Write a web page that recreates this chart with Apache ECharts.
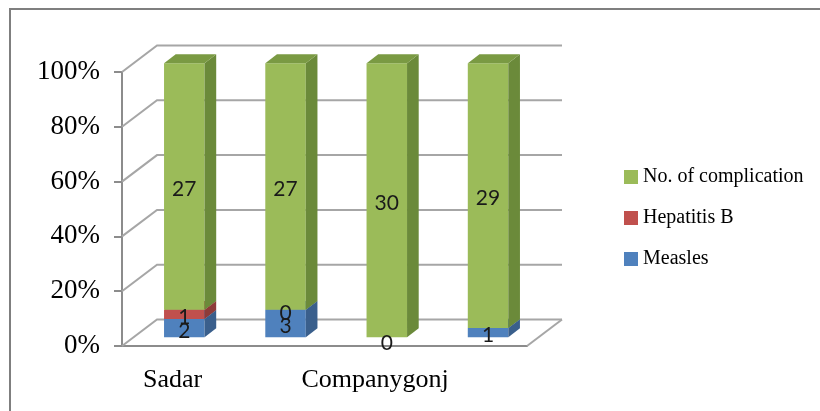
<!DOCTYPE html>
<html><head><meta charset="utf-8">
<script src="https://cdn.jsdelivr.net/npm/echarts@6/dist/echarts.min.js"></script>
<style>html,body{margin:0;padding:0;background:#fff}#c{width:820px;height:411px}</style>
</head><body><div id="c"></div>
<script>
// ---- data ----
const categories = ['Sadar', '', 'Companygonj', ''];
const measles = [2, 3, 0, 1];
const hepatitisB = [1, 0, null, null];
const complication = [27, 27, 30, 29];
const yTicks = [0, 20, 40, 60, 80, 100];
const seriesNames = ['Measles', 'Hepatitis B', 'No. of complication'];
const legendOrder = ['No. of complication', 'Hepatitis B', 'Measles'];

// ---- styling ----
const DX = 35, DY = -26.5;          // depth of the 3D box
const colors = [
  { front: '#4F81BD', side: '#3A5F8C', top: '#4571A6' },
  { front: '#C0504D', side: '#8E3B39', top: '#A64542' },
  { front: '#9BBB59', side: '#6B8A3A', top: '#7A9A43' }
];

const raw = [measles, hepatitisB, complication];
const totals = categories.map((_, i) => raw.reduce((s, arr) => s + (arr[i] == null ? 0 : arr[i]), 0));

function stackedData(k) {
  const out = [];
  categories.forEach((_, i) => {
    const v = raw[k][i];
    if (v == null) return;
    let start = 0;
    for (let j = 0; j < k; j++) start += raw[j][i] == null ? 0 : raw[j][i];
    out.push([i, start / totals[i] * 100, (start + v) / totals[i] * 100, v]);
  });
  return out;
}

function faceGeom(api) {
  const i = api.value(0), s = api.value(1), e = api.value(2);
  const bw = api.size([1, 0])[0];
  const half = bw * 0.2;
  const ox = DX / 3, oy = DY / 3;
  const pB = api.coord([i, s]), pT = api.coord([i, e]);
  return { s: s, e: e, ox: ox, oy: oy, xl: pB[0] - half + ox, xr: pB[0] + half + ox, yb: pB[1] + oy, yt: pT[1] + oy };
}

function makeBarRender(k) {
  const c = colors[k];
  return function (params, api) {
    const g = faceGeom(api);
    const children = [];
    if (g.e > g.s) {
      children.push({ type: 'rect', shape: { x: g.xl, y: g.yt, width: g.xr - g.xl, height: g.yb - g.yt }, style: { fill: c.front } });
      children.push({ type: 'polygon', shape: { points: [[g.xr, g.yb], [g.xr, g.yt], [g.xr + g.ox, g.yt + g.oy], [g.xr + g.ox, g.yb + g.oy]] }, style: { fill: c.side } });
      children.push({ type: 'polygon', shape: { points: [[g.xl, g.yt], [g.xr, g.yt], [g.xr + g.ox, g.yt + g.oy], [g.xl + g.ox, g.yt + g.oy]] }, style: { fill: c.top } });
    }
    return { type: 'group', children: children };
  };
}

function labelRender(params, api) {
  const g = faceGeom(api);
  const v = api.value(3);
  let y = (g.yb + g.yt) / 2 + 3;
  if (g.e === g.s && g.s === 0) y += 3;
  return { type: 'text', style: { text: String(v), x: (g.xl + g.xr) / 2, y: y, align: 'center', verticalAlign: 'middle', fill: '#1a1a1a', font: '21px Lato' } };
}

function wallRender(params, api) {
  const v = api.value(1);
  const bw = api.size([1, 0])[0];
  const p0 = api.coord([0, v]);
  const p3 = api.coord([categories.length - 1, v]);
  const x0 = p0[0] - bw / 2, x1 = p3[0] + bw / 2, y = p0[1];
  const children = [{ type: 'polyline', shape: { points: [[x0, y], [x0 + DX, y + DY], [x1 + DX, y + DY]] }, style: { stroke: '#A6A6A6', lineWidth: 2, fill: null } }];
  if (v === 0) children.push({ type: 'line', shape: { x1: x1, y1: y, x2: x1 + DX, y2: y + DY }, style: { stroke: '#A6A6A6', lineWidth: 2 } });
  return { type: 'group', children: children };
}

const chart = echarts.init(document.getElementById('c'), null, { renderer: 'canvas' });
const series = [{
  name: 'walls', type: 'custom', renderItem: wallRender, silent: true, z: 1,
  data: yTicks.map(t => [0, t]), encode: { x: 0, y: 1 }
}];
let allSegments = [];
seriesNames.forEach((n, k) => {
  const d = stackedData(k);
  allSegments = allSegments.concat(d);
  series.push({
    name: n, type: 'custom', renderItem: makeBarRender(k), z: 5 + k,
    itemStyle: { color: colors[k].front },
    data: d, encode: { x: 0, y: [1, 2] }
  });
});
series.push({
  name: 'labels', type: 'custom', renderItem: labelRender, silent: true, z: 20,
  data: allSegments, encode: { x: 0, y: [1, 2] }
});

chart.setOption({
  animation: false,
  backgroundColor: '#fff',
  grid: { left: 122, top: 72, width: 405, height: 274 },
  xAxis: {
    type: 'category', data: categories, boundaryGap: true,
    axisLine: { lineStyle: { color: '#8C8C8C', width: 2 } },
    axisTick: { interval: 0, length: 8, lineStyle: { color: '#8C8C8C', width: 2 } },
    axisLabel: { interval: 0, margin: 21, fontFamily: 'Liberation Serif', fontSize: 26, color: '#000' }
  },
  yAxis: {
    type: 'value', min: 0, max: 100, interval: 20,
    axisLine: { show: true, lineStyle: { color: '#8C8C8C', width: 2 } },
    axisTick: { show: true, length: 8, lineStyle: { color: '#8C8C8C', width: 2 } },
    splitLine: { show: false },
    axisLabel: { formatter: '{value}%', margin: 22, fontFamily: 'Liberation Serif', fontSize: 27, color: '#000' }
  },
  legend: {
    orient: 'vertical', left: 619, top: 162, itemWidth: 14, itemHeight: 14, itemGap: 21, icon: 'rect',
    data: legendOrder,
    textStyle: { fontFamily: 'Liberation Serif', fontSize: 20, color: '#000' }
  },
  graphic: [
    { type: 'polyline', shape: { points: [[10, 411], [10, 9], [820, 9]] }, style: { stroke: '#7F7F7F', lineWidth: 2, fill: null } }
  ],
  series: series
});
</script></body></html>
